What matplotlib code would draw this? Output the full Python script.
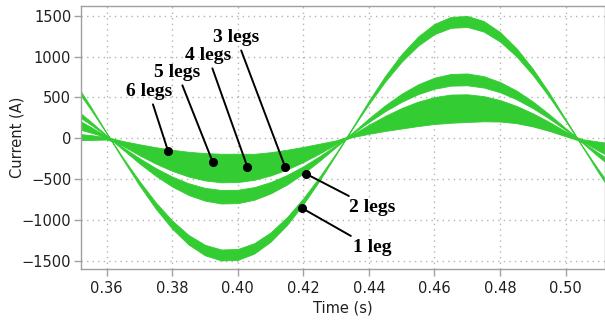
import matplotlib
matplotlib.use("Agg")
import matplotlib.pyplot as plt

# Sample times (s) for the current envelopes
time_s = [0.350, 0.355, 0.360, 0.365, 0.370, 0.375, 0.380, 0.385, 0.390, 0.395,
          0.400, 0.405, 0.410, 0.415, 0.420, 0.425, 0.430, 0.435, 0.440, 0.445,
          0.450, 0.455, 0.460, 0.465, 0.470, 0.475, 0.480, 0.485, 0.490, 0.495,
          0.500, 0.505, 0.510, 0.515]

# Lower / upper envelope of the phase current (A) for each number of legs
leg1_lo = [643, 362, 61, -261, -575, -861, -1106, -1299, -1431, -1494,
           -1487, -1410, -1265, -1061, -806, -513, -197, 121, 419, 696,
           938, 1133, 1274, 1351, 1361, 1305, 1182, 1002, 773, 505,
           212, -98, -420, -722]
leg1_hi = [707, 398, 67, -238, -523, -784, -1006, -1182, -1302, -1360,
           -1353, -1283, -1151, -965, -733, -467, -179, 134, 461, 765,
           1031, 1245, 1400, 1485, 1496, 1434, 1299, 1101, 849, 555,
           233, -89, -382, -657]

leg2_lo = [306, 172, 29, -139, -306, -459, -590, -693, -763, -797,
           -793, -752, -674, -566, -430, -274, -105, 58, 200, 332,
           447, 540, 606, 644, 648, 621, 563, 477, 368, 241,
           101, -52, -224, -385]
leg2_hi = [374, 211, 36, -110, -243, -364, -468, -550, -606, -632,
           -629, -597, -535, -449, -341, -217, -83, 71, 244, 405,
           546, 660, 742, 787, 793, 760, 688, 584, 450, 294,
           123, -41, -178, -305]

leg3_lo = [195, 110, 19, -94, -207, -310, -398, -468, -515, -538,
           -535, -508, -455, -382, -290, -185, -71, 37, 127, 212,
           285, 344, 387, 411, 414, 397, 359, 305, 235, 154,
           64, -35, -151, -260]
leg3_hi = [254, 143, 24, -72, -159, -238, -306, -359, -396, -413,
           -411, -390, -350, -293, -223, -142, -54, 48, 166, 275,
           371, 448, 504, 535, 538, 516, 468, 396, 306, 200,
           84, -27, -116, -200]

leg4_lo = [162, 91, 16, -78, -172, -258, -332, -390, -429, -448,
           -446, -423, -379, -318, -242, -154, -59, 31, 106, 176,
           237, 286, 322, 342, 344, 330, 299, 253, 195, 128,
           53, -29, -126, -216]
leg4_hi = [212, 119, 20, -60, -132, -198, -254, -299, -329, -344,
           -342, -324, -291, -244, -185, -118, -45, 40, 138, 230,
           309, 374, 420, 446, 449, 430, 390, 330, 255, 167,
           70, -22, -97, -166]

leg5_lo = [127, 72, 12, -64, -142, -212, -273, -320, -353, -369,
           -367, -348, -312, -262, -199, -127, -48, 24, 83, 138,
           185, 224, 252, 267, 269, 258, 234, 198, 153, 100,
           42, -24, -104, -178]
leg5_hi = [174, 98, 17, -46, -101, -152, -195, -229, -253, -264,
           -263, -249, -223, -187, -142, -91, -35, 33, 114, 189,
           254, 307, 345, 366, 369, 354, 320, 272, 209, 137,
           57, -17, -76, -130]

leg6_lo = [-25, -20, -15, -80, -130, -180, -215, -245, -265, -275,
           -278, -268, -245, -215, -170, -115, -50, 15, 55, 90,
           120, 150, 175, 190, 200, 208, 205, 185, 145, 90,
           25, -40, -90, -130]
leg6_hi = [60, 40, 15, -33, -73, -109, -140, -165, -181, -189,
           -188, -190, -170, -140, -105, -65, -25, 40, 110, 170,
           215, 250, 275, 290, 300, 300, 290, 265, 220, 150,
           65, -10, -40, -70]

# Annotated points on each curve
ann_labels = ["1 leg", "2 legs", "3 legs", "4 legs", "5 legs", "6 legs"]
ann_t = [0.4196, 0.4208, 0.4144, 0.4029, 0.3924, 0.3787]
ann_i = [-854, -434, -345, -345, -293, -150]
# where each label sits
lbl_t = [0.4409, 0.4409, 0.3996, 0.3909, 0.3816, 0.3729]
lbl_i = [-1340, -851, 1228, 1009, 801, 569]

GREEN = "#33cc33"

fig = plt.figure(figsize=(6.05, 3.20), dpi=100)
ax = fig.add_axes([0.1339, 0.1594, 0.8661, 0.8219])

bands = [(leg1_lo, leg1_hi), (leg2_lo, leg2_hi), (leg3_lo, leg3_hi),
         (leg4_lo, leg4_hi), (leg5_lo, leg5_hi), (leg6_lo, leg6_hi)]
for lo, hi in bands:
    ax.fill_between(time_s, lo, hi, facecolor=GREEN, edgecolor=GREEN,
                    linewidth=0.6, zorder=2)

for name, t, i, tx, ty in zip(ann_labels, ann_t, ann_i, lbl_t, lbl_i):
    ax.plot(t, i, "o", color="black", markersize=5.5, zorder=4)
    ax.annotate(name, xy=(t, i), xytext=(tx, ty), ha="center", va="center",
                fontsize=14, fontweight="bold", family="Liberation Serif",
                arrowprops=dict(arrowstyle="-", color="black", lw=1.4,
                                shrinkA=1, shrinkB=0),
                zorder=5)

ax.set_xlim(0.3522, 0.512)
ax.set_ylim(-1598, 1618)
ax.set_xticks([0.36, 0.38, 0.40, 0.42, 0.44, 0.46, 0.48, 0.50])
ax.set_xticklabels(["0.36", "0.38", "0.40", "0.42", "0.44", "0.46", "0.48", "0.50"])
ax.set_yticks([-1500, -1000, -500, 0, 500, 1000, 1500])

ax.grid(True, color="#b4b4b4", linestyle=(0, (1, 3)), linewidth=1.0, zorder=0)
ax.set_axisbelow(True)
for side in ["left", "bottom", "top", "right"]:
    ax.spines[side].set_color("#a0a0a0")
    ax.spines[side].set_linewidth(1.0)
ax.tick_params(direction="out", length=5, width=1, color="#a0a0a0",
               labelsize=10.5, labelcolor="#202020", pad=2)
ax.tick_params(axis="x", pad=4)

ax.set_xlabel("Time (s)", fontsize=10.5, color="#202020", labelpad=3)
ax.set_ylabel("Current (A)", fontsize=10.5, color="#202020")
ax.yaxis.set_label_coords(-0.108, 0.5)

fig.savefig("out.png", dpi=100)
